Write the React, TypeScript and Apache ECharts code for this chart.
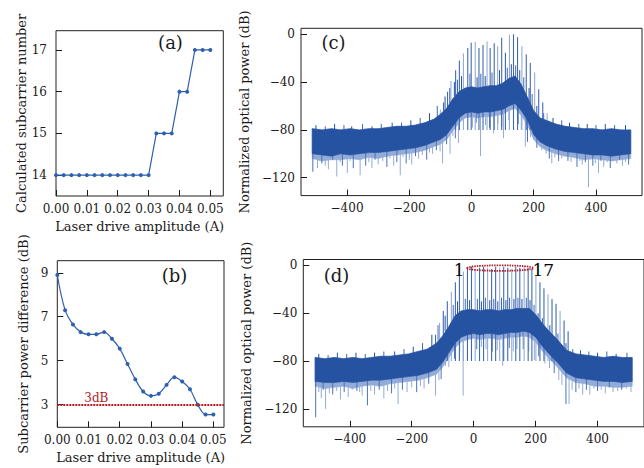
import React, { useEffect, useRef } from 'react';
import * as echarts from 'echarts';

// ---------- (a) & (b) data ----------
const driveAmplitude = [0, 0.0025, 0.005, 0.0075, 0.01, 0.0125, 0.015, 0.0175, 0.02, 0.0225, 0.025, 0.0275, 0.03, 0.0325, 0.035, 0.0375, 0.04, 0.0425, 0.045, 0.0475, 0.05];
const subcarrierNumber = [14, 14, 14, 14, 14, 14, 14, 14, 14, 14, 14, 14, 14, 15, 15, 15, 16, 16, 17, 17, 17];
const powerDifference = [8.9, 7.3, 6.65, 6.3, 6.2, 6.2, 6.3, 6.0, 5.55, 4.85, 4.15, 3.6, 3.4, 3.5, 3.9, 4.25, 4.05, 3.7, 3.0, 2.55, 2.55];
const thresholdDb = 3;
const thresholdLabel = { x: 0.0125, text: '3dB' };
const amplitudeTicks = [0, 0.01, 0.02, 0.03, 0.04, 0.05];
const numberTicks = [14, 15, 16, 17];
const differenceTicks = [3, 5, 7, 9];

// ---------- (c) & (d) spectra ----------
const freqTicks = [-400, -200, 0, 200, 400];
const powerTicks = [-120, -80, -40, 0];
const spectrumX = [-512, -480, -450, -420, -390, -360, -330, -300, -270, -240, -210, -180, -150, -120, -100, -80, -60, -40, -20, 0, 20, 40, 60, 80, 100, 120, 140, 160, 180, 200, 220, 240, 270, 300, 330, 360, 390, 420, 450, 480, 512];

const cUpper = [-79, -80, -79, -80, -79, -80, -79, -79, -78, -77, -77, -76, -74, -71, -67, -62, -54, -48, -45, -44, -45, -44, -43, -43, -41, -37, -35, -42, -53, -64, -70, -72, -75, -77, -78, -79, -79, -80, -79, -80, -80];
const cLower = [-100, -101, -102, -100, -101, -100, -99, -99, -98, -97, -96, -95, -93, -90, -88, -84, -77, -70, -66, -65, -66, -65, -65, -64, -63, -60, -58, -64, -72, -84, -90, -93, -96, -98, -99, -100, -101, -101, -102, -101, -100];
const cFringe = [-104, -106, -105, -105, -104, -105, -103, -104, -102, -101, -100, -99, -97, -94, -92, -88, -81, -74, -70, -69, -70, -69, -69, -68, -67, -64, -62, -68, -76, -88, -94, -97, -100, -102, -103, -105, -104, -105, -106, -105, -104];
const cCarriers = [[-113, -70], [-100, -63], [-90, -57], [-77, -48], [-66, -39], [-51, -30], [-39, -22], [-26, -16], [-12, -11.5], [-1, -7], [12, -6.5], [24, -11.5], [37, -9], [50, -6], [60, -11.5], [73, -7.5], [84, -10], [97, -3], [109, -15.5], [122, -0.5], [135, 0], [148, -2.5], [162, -10], [176, -17], [189, -24], [203, -32], [216, -46], [229, -57], [243, -66]];
const cNoiseUp = [[-500, -82, -76], [-470, -82, -77], [-440, -82, -75], [-410, -82, -76], [-385, -82, -77], [-350, -82, -75], [-320, -82, -77], [-290, -81, -75], [-255, -80, -74], [-225, -79, -74], [-195, -78, -72], [-165, -77, -70], [-135, -74, -66], [-110, -70, -60], [-85, -64, -52], [-70, -58, -45], [-55, -52, -40], [-45, -50, -38], [-32, -48, -35], [-5, -46, -33], [18, -47, -36], [30, -46, -33], [44, -46, -35], [66, -45, -32], [90, -43, -30], [115, -40, -28], [128, -38, -25], [142, -38, -26], [155, -42, -30], [168, -48, -36], [185, -57, -45], [195, -62, -50], [210, -68, -60], [232, -72, -66], [262, -75, -70], [290, -77, -72], [315, -79, -74], [345, -80, -75], [372, -80, -75], [400, -81, -76], [430, -81, -75], [460, -81, -76], [495, -81, -76]];
const cDips = [[-510, -95, -115], [-495, -95, -112], [-488, -95, -106], [-481, -95, -108], [-470, -95, -110], [-460, -95, -113], [-446, -95, -105], [-433, -95, -119], [-422, -95, -107], [-415, -95, -110], [-399, -95, -116], [-390, -95, -106], [-380, -95, -112], [-368, -95, -104], [-358, -95, -118], [-340, -95, -110], [-330, -95, -107], [-320, -95, -112], [-310, -95, -105], [-300, -95, -109], [-285, -94, -106], [-272, -94, -111], [-262, -94, -104], [-250, -93, -110], [-240, -93, -107], [-229, -93, -118], [-220, -92, -103], [-210, -92, -108], [-200, -92, -105], [-192, -91, -109], [-180, -90, -102], [-170, -90, -104], [-158, -89, -101], [-144, -88, -105], [-135, -87, -99], [-125, -86, -100], [-113, -84, -97], [-101, -82, -98], [-93, -80, -108], [-80, -76, -92], [-69, -72, -100], [-60, -68, -85], [-52, -66, -87], [-42, -63, -91], [3, -60, -78], [15, -60, -74], [29, -60, -102], [45, -60, -76], [58, -60, -78], [71, -60, -83], [85, -58, -75], [97, -58, -77], [103, -58, -87], [120, -56, -72], [150, -58, -75], [160, -62, -80], [173, -66, -94], [180, -70, -90], [190, -74, -86], [199, -78, -88], [210, -84, -95], [226, -86, -97], [240, -88, -100], [250, -90, -104], [258, -90, -108], [268, -91, -103], [280, -92, -106], [290, -92, -104], [301, -93, -102], [310, -94, -106], [320, -94, -107], [330, -94, -104], [339, -95, -111], [348, -95, -106], [356, -95, -109], [366, -95, -107], [376, -95, -128], [383, -95, -105], [390, -95, -110], [398, -95, -108], [408, -95, -116], [416, -95, -106], [425, -95, -111], [436, -95, -107], [446, -95, -112], [456, -95, -106], [467, -95, -108], [476, -95, -105], [485, -95, -110], [495, -95, -107], [505, -95, -109]];

const dUpper = [-77, -78, -77, -78, -77, -78, -77, -76, -76, -75, -74, -72, -70, -65, -59, -51, -42, -38, -37, -37, -38, -37, -37, -38, -37, -37, -36, -36, -36, -41, -48, -54, -62, -71, -74, -75, -76, -77, -76, -77, -77];
const dLower = [-97, -98, -98, -97, -98, -97, -96, -96, -95, -94, -93, -92, -90, -87, -81, -73, -65, -60, -58, -57, -58, -57, -57, -58, -57, -56, -56, -55, -56, -60, -67, -73, -81, -90, -94, -95, -96, -97, -97, -98, -97];
const dFringe = [-101, -103, -102, -101, -103, -101, -100, -101, -99, -98, -97, -96, -94, -91, -85, -77, -69, -64, -62, -61, -62, -61, -61, -62, -61, -60, -60, -59, -60, -64, -71, -77, -85, -94, -98, -99, -101, -101, -102, -102, -101];
const dCarriers = [[-123, -58], [-110, -48], [-98, -38], [-85, -30], [-72, -22], [-59, -14], [-46, -8], [-33, -5], [-20, -2], [-7, -1], [5, -3], [19, -2], [32, -1], [45, -2], [58, -3], [71, -1], [84, -2], [97, -1], [110, -2], [123, -3], [136, -1], [149, -2], [163, -1], [176, -2], [188, -3], [201, -9], [214, -14], [227, -19], [240, -24], [253, -28], [266, -32], [279, -38], [292, -46], [305, -55]];
const dNoiseUp = [[-500, -80, -74], [-470, -80, -75], [-440, -80, -73], [-410, -80, -74], [-380, -80, -73], [-350, -80, -74], [-320, -79, -73], [-290, -78, -72], [-255, -78, -72], [-225, -77, -70], [-195, -75, -68], [-165, -73, -65], [-135, -68, -58], [-115, -63, -50], [-92, -55, -42], [-66, -45, -33], [-52, -41, -30], [-27, -40, -28], [-13, -40, -29], [12, -40, -28], [25, -40, -30], [38, -40, -27], [52, -40, -29], [65, -40, -28], [78, -40, -30], [90, -40, -27], [104, -40, -29], [116, -40, -27], [130, -39, -28], [143, -39, -27], [156, -39, -28], [170, -39, -27], [182, -40, -29], [195, -44, -33], [208, -50, -40], [222, -54, -44], [246, -60, -50], [272, -66, -57], [298, -73, -65], [320, -76, -70], [345, -77, -71], [372, -78, -72], [400, -79, -73], [430, -79, -72], [460, -80, -74], [495, -80, -73]];
const dDips = [[-510, -92, -127], [-500, -92, -106], [-492, -92, -111], [-486, -92, -104], [-478, -92, -120], [-466, -92, -107], [-455, -92, -108], [-442, -92, -105], [-430, -92, -112], [-418, -92, -106], [-405, -92, -110], [-392, -92, -104], [-377, -92, -105], [-368, -92, -106], [-360, -92, -109], [-343, -92, -117], [-332, -92, -105], [-320, -92, -108], [-305, -91, -104], [-290, -91, -111], [-278, -90, -105], [-265, -90, -107], [-255, -89, -103], [-244, -89, -116], [-230, -88, -104], [-215, -88, -106], [-200, -87, -102], [-184, -87, -106], [-172, -86, -101], [-160, -85, -103], [-145, -83, -99], [-123, -80, -109], [-112, -78, -96], [-105, -77, -95], [-91, -70, -84], [-80, -66, -85], [-62, -60, -78], [-45, -58, -72], [-34, -55, -109], [10, -55, -70], [25, -55, -68], [40, -55, -70], [60, -55, -72], [76, -55, -71], [94, -55, -84], [115, -55, -69], [128, -55, -72], [140, -55, -70], [160, -55, -70], [178, -55, -72], [196, -56, -79], [210, -58, -76], [230, -62, -82], [245, -66, -86], [260, -70, -90], [275, -75, -96], [285, -80, -100], [298, -85, -116], [308, -86, -116], [318, -87, -104], [330, -88, -106], [340, -88, -103], [352, -89, -108], [364, -89, -104], [375, -90, -108], [388, -90, -103], [400, -90, -105], [412, -90, -104], [425, -90, -107], [438, -90, -102], [450, -91, -106], [465, -91, -105], [478, -91, -104], [493, -91, -103], [508, -91, -106]];
const dHighlight = [-21, 193, -2.2, 2.3]; // x from, x to, centre dB, half height dB
const dEndLabels = [{ name: '1', value: [-46.5, -3.6] }, { name: '17', value: [224.7, -3.6] }];

const FONT = '"DejaVu Serif", serif';
const INK = '#1a1a1a';
const LINE_BLUE = '#2f5fb0';
const DARK = '#2653a1';
const MID = '#3f69b4';
const LIGHT = '#93abd7';
const RED = '#b71c24';
const CARRIER_BASE = -80;

const fmtAmp = (v: number) => v.toFixed(2);
const fmtDb = (v: number) => (v < 0 ? '\u2212' + Math.abs(v) : String(v));

function axisCfg(gridIndex: number, min: number, max: number, ticks: number[], fmt: (v: number) => string, margin: number, name: string, nameGap: number) {
  return {
    type: 'value', gridIndex, min, max,
    name, nameLocation: 'middle', nameGap,
    nameTextStyle: { fontFamily: FONT, fontSize: 13, color: INK },
    axisLine: { show: false, onZero: false },
    axisTick: { show: true, inside: true, length: 6, customValues: ticks, lineStyle: { color: INK } },
    axisLabel: { customValues: ticks, formatter: fmt, fontFamily: FONT, fontSize: 12, color: INK, margin },
    splitLine: { show: false },
  };
}

function bandSeries(idx: number, upper: number[], lower: number[], color: string, z: number) {
  return {
    type: 'custom', xAxisIndex: idx, yAxisIndex: idx, z, silent: true, clip: true,
    data: spectrumX.map((x, i) => [x, upper[i], lower[i]]),
    encode: { x: 0, y: [1, 2] },
    renderItem: (params: any, api: any) => {
      if (params.dataIndexInside !== 0) return null;
      const n = params.dataInsideLength;
      const top: number[][] = [];
      const bottom: number[][] = [];
      for (let i = 0; i < n; i++) {
        top.push(api.coord([api.value(0, i), api.value(1, i)]));
        bottom.push(api.coord([api.value(0, i), api.value(2, i)]));
      }
      return { type: 'polygon', shape: { points: top.concat(bottom.reverse()) }, style: { fill: color, stroke: color, lineWidth: 0.6 } };
    },
  };
}
function carrierSeries(idx: number, carriers: number[][], z: number) {
  return {
    type: 'custom', xAxisIndex: idx, yAxisIndex: idx, z, silent: true, clip: true,
    data: carriers,
    encode: { x: 0, y: 1 },
    renderItem: (params: any, api: any) => {
      const x = api.value(0);
      const p1 = api.coord([x, CARRIER_BASE]);
      const p2 = api.coord([x, api.value(1)]);
      const light = params.dataIndex % 3 === 1;
      return { type: 'line', shape: { x1: p1[0], y1: p1[1], x2: p2[0], y2: p2[1] }, style: { stroke: light ? LIGHT : MID, lineWidth: 1.1 } };
    },
  };
}
function segmentSeries(idx: number, segs: number[][], z: number, colorOf: (i: number) => string) {
  return {
    type: 'custom', xAxisIndex: idx, yAxisIndex: idx, z, silent: true, clip: true,
    data: segs,
    encode: { x: 0, y: [1, 2] },
    renderItem: (params: any, api: any) => {
      const x = api.value(0);
      const p1 = api.coord([x, api.value(1)]);
      const p2 = api.coord([x, api.value(2)]);
      return { type: 'line', shape: { x1: p1[0], y1: p1[1], x2: p2[0], y2: p2[1] }, style: { stroke: colorOf(params.dataIndex), lineWidth: 1 } };
    },
  };
}
const dipColor = (i: number) => (i % 3 === 0 ? '#4a72b8' : LIGHT);
const upColor = (i: number) => (i % 2 === 0 ? DARK : MID);

export default function App() {
  const ref = useRef<HTMLDivElement>(null);
  useEffect(() => {
    if (!ref.current) return;
    const chart = echarts.init(ref.current, null, { renderer: 'svg' });
    const gridBase = { show: true, borderColor: '#222', borderWidth: 1, backgroundColor: 'transparent', containLabel: false };
    const option: any = {
      animation: false,
      backgroundColor: '#ffffff',
      grid: [
        { ...gridBase, left: 56, top: 30.7, width: 167.3, height: 165.3 },
        { ...gridBase, left: 57.3, top: 260.7, width: 166.7, height: 166.6 },
        { ...gridBase, left: 301, top: 28.3, width: 341, height: 167.3 },
        { ...gridBase, left: 303.3, top: 259.5, width: 342, height: 167.3 },
      ],
      xAxis: [
        axisCfg(0, 0, 0.0542, amplitudeTicks, fmtAmp, 7, 'Laser drive amplitude (A)', 24),
        axisCfg(1, 0, 0.0534, amplitudeTicks, fmtAmp, 7, 'Laser drive amplitude (A)', 24),
        axisCfg(2, -548, 548, freqTicks, fmtDb, 6, '', 24),
        axisCfg(3, -550, 550, freqTicks, fmtDb, 6, '', 24),
      ],
      yAxis: [
        axisCfg(0, 13.5, 17.46, numberTicks, (v) => String(v), 9, 'Calculated subcarrier number', 27),
        axisCfg(1, 1.97, 9.55, differenceTicks, (v) => String(v), 9, 'Subcarrier power difference (dB)', 27),
        axisCfg(2, -135, 5, powerTicks, fmtDb, 6, 'Normalized optical power (dB)', 41),
        axisCfg(3, -135, 5, powerTicks, fmtDb, 6, 'Normalized optical power (dB)', 43),
      ],
      graphic: [
        { type: 'text', x: 170.5, y: 42.7, style: { text: '(a)', font: `18px ${FONT}`, fill: INK, align: 'center', verticalAlign: 'middle' } },
        { type: 'text', x: 174.5, y: 275, style: { text: '(b)', font: `18px ${FONT}`, fill: INK, align: 'center', verticalAlign: 'middle' } },
        { type: 'text', x: 333.5, y: 42.7, style: { text: '(c)', font: `18px ${FONT}`, fill: INK, align: 'center', verticalAlign: 'middle' } },
        { type: 'text', x: 336.5, y: 275, style: { text: '(d)', font: `18px ${FONT}`, fill: INK, align: 'center', verticalAlign: 'middle' } },
      ],
      series: [
        {
          type: 'line', xAxisIndex: 0, yAxisIndex: 0,
          data: driveAmplitude.map((x, i) => [x, subcarrierNumber[i]]),
          symbol: 'circle', symbolSize: 4, showSymbol: true,
          lineStyle: { color: LINE_BLUE, width: 1.2 }, itemStyle: { color: LINE_BLUE },
        },
        {
          type: 'line', xAxisIndex: 1, yAxisIndex: 1, z: 3,
          data: driveAmplitude.map((x, i) => [x, powerDifference[i]]),
          symbol: 'circle', symbolSize: 4, smooth: 0.35,
          lineStyle: { color: LINE_BLUE, width: 1.2 }, itemStyle: { color: LINE_BLUE },
          markLine: {
            silent: true, symbol: 'none', animation: false,
            data: [{ yAxis: thresholdDb }],
            lineStyle: { color: RED, type: [2, 1], width: 2 },
            label: { show: false },
          },
        },
        {
          type: 'scatter', xAxisIndex: 1, yAxisIndex: 1, symbolSize: 0, silent: true,
          itemStyle: { opacity: 1 },
          data: [{ name: thresholdLabel.text, value: [thresholdLabel.x, thresholdDb] }],
          label: { show: true, formatter: '{b}', position: 'top', distance: 1, color: RED, opacity: 1, fontFamily: FONT, fontSize: 12, textBorderWidth: 0 },
        },
        bandSeries(2, cUpper, cFringe, LIGHT, 1),
        segmentSeries(2, cDips, 2, dipColor),
        carrierSeries(2, cCarriers, 3),
        segmentSeries(2, cNoiseUp, 3, upColor),
        bandSeries(2, cUpper, cLower, DARK, 4),
        bandSeries(3, dUpper, dFringe, LIGHT, 1),
        segmentSeries(3, dDips, 2, dipColor),
        carrierSeries(3, dCarriers, 3),
        segmentSeries(3, dNoiseUp, 3, upColor),
        bandSeries(3, dUpper, dLower, DARK, 4),
        {
          type: 'custom', xAxisIndex: 3, yAxisIndex: 3, z: 6, silent: true,
          data: [dHighlight],
          encode: { x: [0, 1], y: 2 },
          renderItem: (params: any, api: any) => {
            const l = api.coord([api.value(0), api.value(2)]);
            const r = api.coord([api.value(1), api.value(2)]);
            const t = api.coord([api.value(0), api.value(2) + api.value(3)]);
            return {
              type: 'ellipse',
              shape: { cx: (l[0] + r[0]) / 2, cy: l[1], rx: (r[0] - l[0]) / 2, ry: l[1] - t[1] },
              style: { fill: 'none', stroke: RED, lineWidth: 1.8, lineDash: [1.5, 1] },
            };
          },
        },
        {
          type: 'scatter', xAxisIndex: 3, yAxisIndex: 3, symbolSize: 0, silent: true, z: 7,
          itemStyle: { opacity: 1 },
          data: dEndLabels,
          label: { show: true, formatter: '{b}', position: 'inside', color: '#000', opacity: 1, fontFamily: FONT, fontSize: 17, textBorderWidth: 0 },
        },
      ],
    };
    chart.setOption(option);
    return () => chart.dispose();
  }, []);
  return <div ref={ref} style={{ position: 'absolute', left: 0, top: 0, width: 644, height: 468 }} />;
}
